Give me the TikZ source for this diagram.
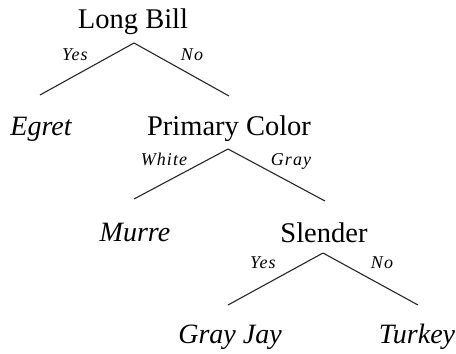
\documentclass[tikz,border=0pt]{standalone}
\usepackage{fontspec}
\newfontfamily\lser{Liberation Serif}
\newfontfamily\lserls{Liberation Serif}[LetterSpace=6]
\begin{document}
\begin{tikzpicture}[x=1pt,y=-1pt,
  test/.style={font=\lser\fontsize{28.5}{31}\selectfont, inner sep=0pt, anchor=base},
  leaf/.style={font=\lser\fontsize{28}{31}\selectfont\itshape, inner sep=0pt, anchor=base},
  elabel/.style={font=\lserls\fontsize{18}{20}\selectfont\itshape, inner sep=0pt, anchor=base},
  branch/.style={draw=black!85, line width=1.1pt, line join=round}]
\useasboundingbox (0,0) rectangle (456,354);
% tests
\node[test] (long) at (133,28) {Long Bill};
\node[test] (prim) at (229,135) {Primary Color};
\node[test] (slen) at (324,242) {Slender};
% leaves
\node[leaf] (egret) at (41,135) {Egret};
\node[leaf] (murre) at (135,241) {Murre};
\node[leaf] (jay) at (230,343) {Gray Jay};
\node[leaf] (turkey) at (417,343) {Turkey};
% branch coordinates
\coordinate (a1) at (134,43);
\coordinate (a1l) at (40,95);
\coordinate (a1r) at (229,96);
\coordinate (a2) at (228,149);
\coordinate (a2l) at (134,199);
\coordinate (a2r) at (325,201);
\coordinate (a3) at (323,253);
\coordinate (a3l) at (228,305);
\coordinate (a3r) at (418,305);
\draw[branch] (a1l) -- (a1) -- (a1r);
\draw[branch] (a2l) -- (a2) -- (a2r);
\draw[branch] (a3l) -- (a3) -- (a3r);
% edge labels
\node[elabel] (y1) at (75,60) {Yes};
\node[elabel] (n1) at (192,60) {No};
\node[elabel] (w2) at (164,165) {White};
\node[elabel] (g2) at (291,165) {Gray};
\node[elabel] (y3) at (263,268) {Yes};
\node[elabel] (n3) at (382,268) {No};
\end{tikzpicture}
\end{document}
